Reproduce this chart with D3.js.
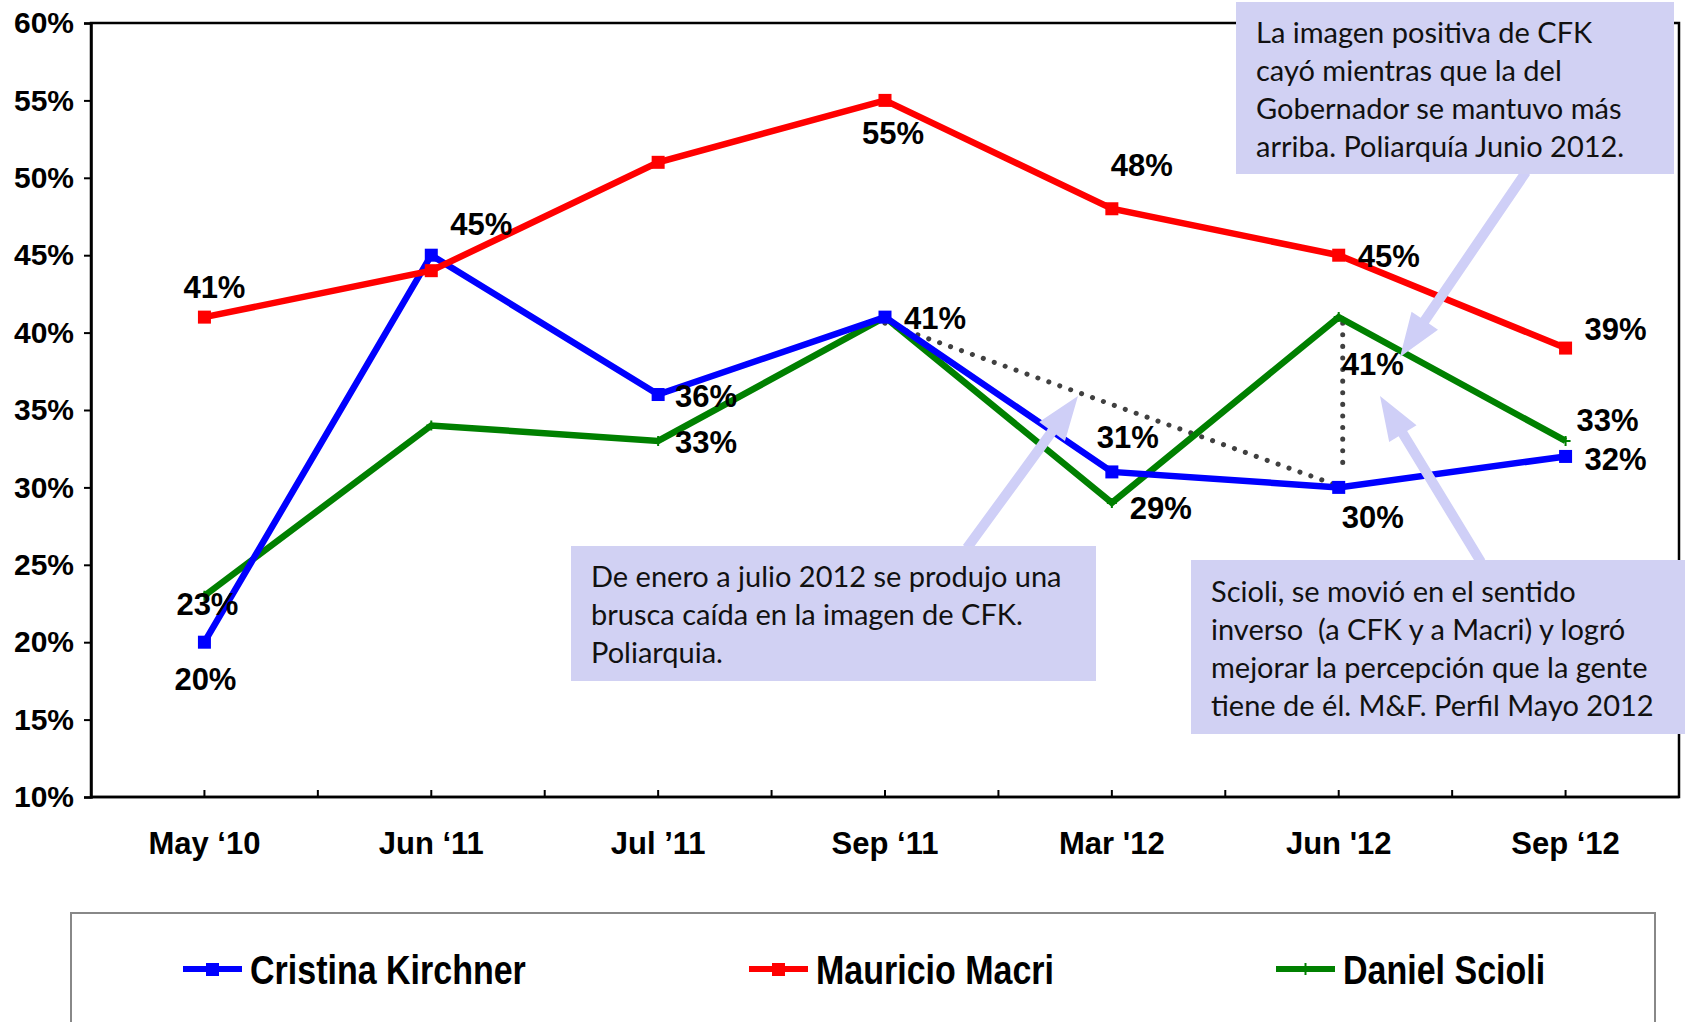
<!DOCTYPE html>
<html>
<head>
<meta charset="utf-8">
<script src="https://cdn.jsdelivr.net/npm/d3@7"></script>
<style>
  body { margin: 0; background: #fff; }
  svg text { font-family: "Liberation Sans", Arial, sans-serif; }
  .note text { font-family: Lato, "Open Sans", sans-serif; white-space: pre; }
</style>
</head>
<body>
<div id="chart"></div>
<script>
// categories and series
var months = ["May \u201810", "Jun \u201811", "Jul \u201911", "Sep \u201811", "Mar '12", "Jun '12", "Sep \u201812"];
var cfk    = [20, 45, 36, 41, 31, 30, 32];
var macri  = [41, 44, 51, 55, 48, 45, 39];
var scioli = [23, 34, 33, 41, 29, 41, 33];
var yTicks = [10, 15, 20, 25, 30, 35, 40, 45, 50, 55, 60];
var seriesNames = ["Cristina Kirchner", "Mauricio Macri", "Daniel Scioli"];

// which points carry a value label: [series, index]
var labelled = [
  [1, 0], [0, 1], [0, 2], [2, 2], [1, 3], [0, 3], [1, 4], [0, 4], [2, 4],
  [1, 5], [2, 5], [0, 5], [1, 6], [2, 6], [0, 6], [2, 0], [0, 0]
];
// label offsets (px) in the same order
var labelShift = [
  [10, -30], [50, -31], [48, 1], [48, 1], [8, 32], [50, 1], [30, -44], [16, -35], [49, 5],
  [50, 1], [34, 47], [34, 29], [50, -19], [42, -21], [50, 2], [3, 8], [1, 37]
];

var notes = [
  ["La imagen positiva de CFK", "cayó mientras que la del", "Gobernador se mantuvo más", "arriba. Poliarquía Junio 2012."],
  ["De enero a julio 2012 se produjo una", "brusca caída en la imagen de CFK.", "Poliarquia."],
  ["Scioli, se movió en el sentido", "inverso  (a CFK y a Macri) y logró", "mejorar la percepción que la gente", "tiene de él. M&F. Perfil Mayo 2012"]
];

var width = 1685, height = 1022;
var plot = {left: 91, right: 1679, top: 23, bottom: 797};

var svg = d3.select("#chart").append("svg")
  .attr("width", width)
  .attr("height", height);

var x = d3.scaleBand().domain(months).range([plot.left, plot.right]);
var y = d3.scaleLinear().domain([10, 60]).range([plot.bottom, plot.top]);
var cx = function(i) { return x(months[i]) + x.bandwidth() / 2; };

var colors = ["#0000ff", "#ff0000", "#008000"];
var data = [cfk, macri, scioli];

// frame
svg.append("rect")
  .attr("x", plot.left).attr("y", plot.top)
  .attr("width", plot.right - plot.left).attr("height", plot.bottom - plot.top)
  .attr("fill", "none").attr("stroke", "#000").attr("stroke-width", 2.5);

// y axis
var yAxis = svg.append("g")
  .attr("transform", "translate(" + plot.left + ",0)")
  .call(d3.axisLeft(y).tickValues(yTicks).tickFormat(function(d) { return d + "%"; }).tickSize(7).tickPadding(10));
yAxis.select(".domain").attr("stroke-width", 2.5);
yAxis.selectAll(".tick line").attr("stroke-width", 2);
yAxis.selectAll("text").attr("font-size", 30).attr("font-weight", "bold").attr("fill", "#000")
  .attr("font-family", "Liberation Sans, Arial, sans-serif");

// x axis ticks (inside, at every half category)
var halfTicks = d3.range(months.length * 2).map(function(k) { return plot.left + x.bandwidth() * k / 2; });
svg.append("g").selectAll("line").data(halfTicks.slice(1)).join("line")
  .attr("x1", function(d) { return d; }).attr("x2", function(d) { return d; })
  .attr("y1", plot.bottom).attr("y2", plot.bottom - 7)
  .attr("stroke", "#000").attr("stroke-width", 2);
svg.append("line")
  .attr("x1", plot.left).attr("x2", plot.right)
  .attr("y1", plot.bottom).attr("y2", plot.bottom)
  .attr("stroke", "#000").attr("stroke-width", 2.5);

svg.append("g").selectAll("text").data(months).join("text")
  .attr("x", function(d, i) { return cx(i); })
  .attr("y", 854)
  .attr("text-anchor", "middle")
  .attr("font-size", 31).attr("font-weight", "bold")
  .text(function(d) { return d; });

// dotted guides
var guides = [[3, 41, 5, 30], [5, 41, 5, 31]];
svg.append("g").selectAll("line").data(guides).join("line")
  .attr("x1", function(d, i) { return cx(d[0]) + (i ? 4 : 0); })
  .attr("y1", function(d) { return y(d[1]) + 6; })
  .attr("x2", function(d, i) { return cx(d[2]) + 4; })
  .attr("y2", function(d) { return y(d[3]); })
  .attr("stroke", "#404040").attr("stroke-width", 5)
  .attr("stroke-linecap", "round").attr("stroke-dasharray", "0.1 11.5");

// lines (scioli drawn first, then cfk, then macri on top)
var line = d3.line().x(function(d, i) { return cx(i); }).y(function(d) { return y(d); });
[2, 0, 1].forEach(function(s) {
  svg.append("path").datum(data[s])
    .attr("d", line)
    .attr("fill", "none").attr("stroke", colors[s]).attr("stroke-width", 6.5)
    .attr("stroke-linejoin", "miter");
  if (s === 2) {
    svg.append("g").selectAll("path").data(data[s]).join("path")
      .attr("d", function(d, i) { var px = cx(i), py = y(d); return "M" + (px - 5) + "," + py + "H" + (px + 5) + "M" + px + "," + (py - 5) + "V" + (py + 5); })
      .attr("stroke", colors[s]).attr("stroke-width", 2);
  } else {
    svg.append("g").selectAll("rect").data(data[s]).join("rect")
      .attr("x", function(d, i) { return cx(i) - 6.5; })
      .attr("y", function(d) { return y(d) - 6.5; })
      .attr("width", 13).attr("height", 13)
      .attr("fill", colors[s]);
  }
});

// value labels
svg.append("g").selectAll("text").data(labelled).join("text")
  .attr("x", function(d, k) { return cx(d[1]) + labelShift[k][0]; })
  .attr("y", function(d, k) { return y(data[d[0]][d[1]]) + labelShift[k][1]; })
  .attr("dy", "0.36em")
  .attr("text-anchor", "middle")
  .attr("font-size", 31).attr("font-weight", "bold")
  .text(function(d) { return Math.round(data[d[0]][d[1]]) + "%"; });

// callout arrows
function arrow(x1, y1, x2, y2) {
  var dx = x2 - x1, dy = y2 - y1, len = Math.sqrt(dx * dx + dy * dy);
  var ux = dx / len, uy = dy / len, px = -uy, py = ux;
  var sw = 5, hw = 16, hl = 44;
  var bx = x2 - ux * hl, by = y2 - uy * hl;
  var pts = [
    [x1 + px * sw, y1 + py * sw], [bx + px * sw, by + py * sw], [bx + px * hw, by + py * hw],
    [x2, y2],
    [bx - px * hw, by - py * hw], [bx - px * sw, by - py * sw], [x1 - px * sw, y1 - py * sw]
  ];
  return "M" + pts.map(function(p) { return p.join(","); }).join("L") + "Z";
}
var arrows = [[1526, 172, 1400, 357], [967, 548, 1078, 396], [1481, 562, 1380, 396]];
svg.append("g").selectAll("path").data(arrows).join("path")
  .attr("d", function(a) { return arrow(a[0], a[1], a[2], a[3]); })
  .attr("fill", "#cfcff7");

// callout boxes
var boxes = [
  {x: 1236, y: 2, w: 438, h: 172, tx: 1256, ty: 33},
  {x: 571, y: 546, w: 525, h: 135, tx: 591, ty: 577},
  {x: 1191, y: 560, w: 494, h: 174, tx: 1211, ty: 592}
];
var note = svg.append("g").attr("class", "note");
boxes.forEach(function(b, i) {
  note.append("rect").attr("x", b.x).attr("y", b.y).attr("width", b.w).attr("height", b.h).attr("fill", "#d1d1f3");
  note.append("text")
    .attr("font-size", 29).attr("fill", "#111")
    .selectAll("tspan").data(notes[i]).join("tspan")
    .attr("x", b.tx).attr("y", function(d, k) { return b.ty + k * 38; })
    .attr("dy", "0.35em")
    .text(function(d) { return d; });
});

// legend
svg.append("rect")
  .attr("x", 71).attr("y", 913).attr("width", 1584).attr("height", 130)
  .attr("fill", "#fff").attr("stroke", "#888").attr("stroke-width", 2);
var legendX = [183, 749, 1276];
var lg = svg.append("g").selectAll("g").data(seriesNames).join("g")
  .attr("transform", function(d, i) { return "translate(" + legendX[i] + ",969)"; });
lg.append("line").attr("x1", 0).attr("x2", 59).attr("stroke", function(d, i) { return colors[i]; }).attr("stroke-width", 6);
lg.filter(function(d, i) { return i < 2; }).append("rect")
  .attr("x", 23).attr("y", -6).attr("width", 13).attr("height", 13)
  .attr("fill", function(d, i) { return colors[i]; });
lg.filter(function(d, i) { return i === 2; }).append("line")
  .attr("x1", 29.5).attr("x2", 29.5).attr("y1", -6).attr("y2", 6)
  .attr("stroke", colors[2]).attr("stroke-width", 2);
lg.append("text")
  .attr("transform", "translate(67,0) scale(1,1.2)")
  .attr("dy", "0.36em")
  .attr("font-size", 34).attr("font-weight", "bold")
  .text(function(d) { return d; });
</script>
</body>
</html>
